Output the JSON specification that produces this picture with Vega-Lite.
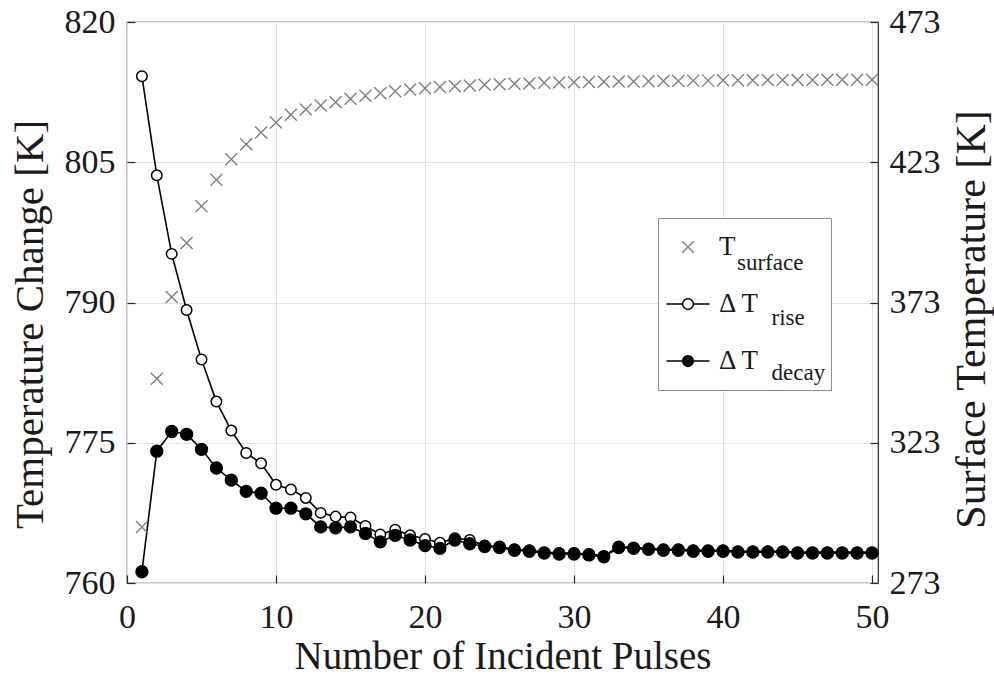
{
  "$schema": "https://vega.github.io/schema/vega-lite/v6.json",
  "width": 751,
  "height": 561,
  "autosize": "none",
  "padding": {"left": 127, "top": 22, "right": 116, "bottom": 93},
  "background": "white",
  "config": {
    "font": "Liberation Serif",
    "view": {"stroke": "#262626", "strokeWidth": 1.2},
    "axis": {
      "labelFont": "Liberation Serif",
      "titleFont": "Liberation Serif",
      "labelColor": "#1a1a1a",
      "titleColor": "#1a1a1a",
      "titleFontWeight": "normal",
      "tickColor": "#262626",
      "tickWidth": 1.2,
      "domain": false,
      "gridColor": "#e2e2e2",
      "gridWidth": 1,
      "labelFontSize": 34,
      "titleFontSize": 41,
      "tickSize": -8,
      "labelFlush": false,
      "labelOverlap": false
    },
    "legend": {"labelFont": "Liberation Serif", "labelColor": "#1a1a1a"}
  },
  "datasets": {
    "readings": [
      {"n": 1, "series": "surface", "value": 293.0},
      {"n": 2, "series": "surface", "value": 345.8},
      {"n": 3, "series": "surface", "value": 375.0},
      {"n": 4, "series": "surface", "value": 394.2},
      {"n": 5, "series": "surface", "value": 407.3},
      {"n": 6, "series": "surface", "value": 416.8},
      {"n": 7, "series": "surface", "value": 424.1},
      {"n": 8, "series": "surface", "value": 429.4},
      {"n": 9, "series": "surface", "value": 433.6},
      {"n": 10, "series": "surface", "value": 437.2},
      {"n": 11, "series": "surface", "value": 439.9},
      {"n": 12, "series": "surface", "value": 441.8},
      {"n": 13, "series": "surface", "value": 443.2},
      {"n": 14, "series": "surface", "value": 444.4},
      {"n": 15, "series": "surface", "value": 445.6},
      {"n": 16, "series": "surface", "value": 446.7},
      {"n": 17, "series": "surface", "value": 447.6},
      {"n": 18, "series": "surface", "value": 448.3},
      {"n": 19, "series": "surface", "value": 448.9},
      {"n": 20, "series": "surface", "value": 449.4},
      {"n": 21, "series": "surface", "value": 449.8},
      {"n": 22, "series": "surface", "value": 450.1},
      {"n": 23, "series": "surface", "value": 450.4},
      {"n": 24, "series": "surface", "value": 450.6},
      {"n": 25, "series": "surface", "value": 450.8},
      {"n": 26, "series": "surface", "value": 451.0},
      {"n": 27, "series": "surface", "value": 451.1},
      {"n": 28, "series": "surface", "value": 451.3},
      {"n": 29, "series": "surface", "value": 451.4},
      {"n": 30, "series": "surface", "value": 451.5},
      {"n": 31, "series": "surface", "value": 451.6},
      {"n": 32, "series": "surface", "value": 451.7},
      {"n": 33, "series": "surface", "value": 451.8},
      {"n": 34, "series": "surface", "value": 451.8},
      {"n": 35, "series": "surface", "value": 451.9},
      {"n": 36, "series": "surface", "value": 452.0},
      {"n": 37, "series": "surface", "value": 452.0},
      {"n": 38, "series": "surface", "value": 452.1},
      {"n": 39, "series": "surface", "value": 452.1},
      {"n": 40, "series": "surface", "value": 452.2},
      {"n": 41, "series": "surface", "value": 452.2},
      {"n": 42, "series": "surface", "value": 452.2},
      {"n": 43, "series": "surface", "value": 452.3},
      {"n": 44, "series": "surface", "value": 452.3},
      {"n": 45, "series": "surface", "value": 452.3},
      {"n": 46, "series": "surface", "value": 452.3},
      {"n": 47, "series": "surface", "value": 452.4},
      {"n": 48, "series": "surface", "value": 452.4},
      {"n": 49, "series": "surface", "value": 452.4},
      {"n": 50, "series": "surface", "value": 452.4},
      {"n": 1, "series": "rise", "value": 814.2},
      {"n": 2, "series": "rise", "value": 803.6},
      {"n": 3, "series": "rise", "value": 795.2},
      {"n": 4, "series": "rise", "value": 789.2},
      {"n": 5, "series": "rise", "value": 783.9},
      {"n": 6, "series": "rise", "value": 779.4},
      {"n": 7, "series": "rise", "value": 776.3},
      {"n": 8, "series": "rise", "value": 773.9},
      {"n": 9, "series": "rise", "value": 772.8},
      {"n": 10, "series": "rise", "value": 770.5},
      {"n": 11, "series": "rise", "value": 770.0},
      {"n": 12, "series": "rise", "value": 769.1},
      {"n": 13, "series": "rise", "value": 767.5},
      {"n": 14, "series": "rise", "value": 767.1},
      {"n": 15, "series": "rise", "value": 767.0},
      {"n": 16, "series": "rise", "value": 766.1},
      {"n": 17, "series": "rise", "value": 765.2},
      {"n": 18, "series": "rise", "value": 765.7},
      {"n": 19, "series": "rise", "value": 765.1},
      {"n": 20, "series": "rise", "value": 764.7},
      {"n": 21, "series": "rise", "value": 764.3},
      {"n": 22, "series": "rise", "value": 764.8},
      {"n": 23, "series": "rise", "value": 764.6},
      {"n": 24, "series": "rise", "value": 764.0},
      {"n": 25, "series": "rise", "value": 763.9},
      {"n": 26, "series": "rise", "value": 763.6},
      {"n": 27, "series": "rise", "value": 763.5},
      {"n": 28, "series": "rise", "value": 763.3},
      {"n": 29, "series": "rise", "value": 763.2},
      {"n": 30, "series": "rise", "value": 763.2},
      {"n": 31, "series": "rise", "value": 763.1},
      {"n": 32, "series": "rise", "value": 762.9},
      {"n": 33, "series": "rise", "value": 763.9},
      {"n": 34, "series": "rise", "value": 763.8},
      {"n": 35, "series": "rise", "value": 763.7},
      {"n": 36, "series": "rise", "value": 763.6},
      {"n": 37, "series": "rise", "value": 763.6},
      {"n": 38, "series": "rise", "value": 763.5},
      {"n": 39, "series": "rise", "value": 763.5},
      {"n": 40, "series": "rise", "value": 763.5},
      {"n": 41, "series": "rise", "value": 763.4},
      {"n": 42, "series": "rise", "value": 763.4},
      {"n": 43, "series": "rise", "value": 763.4},
      {"n": 44, "series": "rise", "value": 763.4},
      {"n": 45, "series": "rise", "value": 763.3},
      {"n": 46, "series": "rise", "value": 763.3},
      {"n": 47, "series": "rise", "value": 763.3},
      {"n": 48, "series": "rise", "value": 763.3},
      {"n": 49, "series": "rise", "value": 763.3},
      {"n": 50, "series": "rise", "value": 763.3},
      {"n": 1, "series": "decay", "value": 761.2},
      {"n": 2, "series": "decay", "value": 774.1},
      {"n": 3, "series": "decay", "value": 776.2},
      {"n": 4, "series": "decay", "value": 775.9},
      {"n": 5, "series": "decay", "value": 774.3},
      {"n": 6, "series": "decay", "value": 772.3},
      {"n": 7, "series": "decay", "value": 771.0},
      {"n": 8, "series": "decay", "value": 769.8},
      {"n": 9, "series": "decay", "value": 769.6},
      {"n": 10, "series": "decay", "value": 768.0},
      {"n": 11, "series": "decay", "value": 768.0},
      {"n": 12, "series": "decay", "value": 767.4},
      {"n": 13, "series": "decay", "value": 766.0},
      {"n": 14, "series": "decay", "value": 765.9},
      {"n": 15, "series": "decay", "value": 766.0},
      {"n": 16, "series": "decay", "value": 765.3},
      {"n": 17, "series": "decay", "value": 764.4},
      {"n": 18, "series": "decay", "value": 765.1},
      {"n": 19, "series": "decay", "value": 764.6},
      {"n": 20, "series": "decay", "value": 764.0},
      {"n": 21, "series": "decay", "value": 763.7},
      {"n": 22, "series": "decay", "value": 764.6},
      {"n": 23, "series": "decay", "value": 764.2},
      {"n": 24, "series": "decay", "value": 763.9},
      {"n": 25, "series": "decay", "value": 763.8},
      {"n": 26, "series": "decay", "value": 763.5},
      {"n": 27, "series": "decay", "value": 763.4},
      {"n": 28, "series": "decay", "value": 763.2},
      {"n": 29, "series": "decay", "value": 763.1},
      {"n": 30, "series": "decay", "value": 763.1},
      {"n": 31, "series": "decay", "value": 763.0},
      {"n": 32, "series": "decay", "value": 762.8},
      {"n": 33, "series": "decay", "value": 763.8},
      {"n": 34, "series": "decay", "value": 763.7},
      {"n": 35, "series": "decay", "value": 763.6},
      {"n": 36, "series": "decay", "value": 763.5},
      {"n": 37, "series": "decay", "value": 763.5},
      {"n": 38, "series": "decay", "value": 763.4},
      {"n": 39, "series": "decay", "value": 763.4},
      {"n": 40, "series": "decay", "value": 763.4},
      {"n": 41, "series": "decay", "value": 763.3},
      {"n": 42, "series": "decay", "value": 763.3},
      {"n": 43, "series": "decay", "value": 763.3},
      {"n": 44, "series": "decay", "value": 763.3},
      {"n": 45, "series": "decay", "value": 763.2},
      {"n": 46, "series": "decay", "value": 763.2},
      {"n": 47, "series": "decay", "value": 763.2},
      {"n": 48, "series": "decay", "value": 763.2},
      {"n": 49, "series": "decay", "value": 763.2},
      {"n": 50, "series": "decay", "value": 763.2}
    ]
  },
  "data": {"name": "readings"},
  "layer": [
    {
      "transform": [{"filter": "datum.series !== 'surface'"}],
      "encoding": {
        "x": {
          "field": "n",
          "type": "quantitative",
          "scale": {"domain": [0, 50.4], "nice": false},
          "axis": {
            "values": [0, 10, 20, 30, 40, 50],
            "title": "Number of Incident Pulses",
            "grid": true,
            "labelPadding": 25,
            "titleFontSize": 39,
            "titleY": 85,
            "titleBaseline": "alphabetic"
          }
        },
        "y": {
          "field": "value",
          "type": "quantitative",
          "scale": {"domain": [760, 820], "nice": false, "zero": false},
          "axis": {
            "values": [760, 775, 790, 805, 820],
            "title": "Temperature Change [K]",
            "grid": true,
            "labelPadding": 20,
            "titleAngle": 270,
            "titleX": -85,
            "titleY": 302,
            "titleBaseline": "alphabetic"
          }
        }
      },
      "layer": [
        {
          "mark": {"type": "line", "color": "black", "strokeWidth": 1.6},
          "encoding": {"detail": {"field": "series"}}
        },
        {
          "transform": [{"filter": "datum.series === 'rise'"}],
          "mark": {"type": "point", "shape": "circle", "size": 110, "strokeWidth": 1.5, "opacity": 1},
          "encoding": {
            "fill": {
              "field": "series", "type": "nominal",
              "scale": {"domain": ["surface", "rise", "decay"], "range": ["#7f7f7f", "white", "black"]},
              "legend": {
                "title": null, "orient": "none", "legendX": 531, "legendY": 196, "padding": 7.5,
                "fillColor": "white", "strokeColor": "#8c8c8c", "symbolSize": 1849, "symbolStrokeWidth": 1.5,
                "symbolOpacity": 1, "clipHeight": 43, "labelFontSize": 27, "labelOffset": 8.5, "rowPadding": 14, "zindex": 1,
                "labelExpr": "datum.value === 'surface' ? 'T' : '\u0394 T\u2003\u2003\u2004\u200b'"
              }
            },
            "stroke": {"field": "series", "type": "nominal", "scale": {"domain": ["surface", "rise", "decay"], "range": ["#7f7f7f", "black", "black"]}},
            "opacity": {
              "field": "series", "type": "ordinal", "sort": ["surface", "rise", "decay"],
              "scale": {"range": [1, 1]},
              "legend": {
                "title": null, "orient": "none", "legendX": 560, "legendY": 219.5, "padding": 0,
                "symbolSize": 0, "clipHeight": 43, "labelFontSize": 23,
                "labelOffset": 27, "rowPadding": 12, "zindex": 2,
                "labelExpr": "datum.value === 'surface' ? 'surface' : datum.value === 'rise' ? '\u200b\u2003\u2002rise' : '\u200b\u2003\u2002decay'"
              }
            }
          }
        },
        {
          "transform": [{"filter": "datum.series === 'decay'"}],
          "mark": {"type": "point", "shape": "circle", "size": 140, "strokeWidth": 1.5, "opacity": 1},
          "encoding": {
            "fill": {
              "field": "series", "type": "nominal",
              "scale": {"domain": ["surface", "rise", "decay"], "range": ["#7f7f7f", "white", "black"]},
              "legend": {
                "title": null, "orient": "none", "legendX": 531, "legendY": 196, "padding": 7.5,
                "fillColor": "white", "strokeColor": "#8c8c8c", "symbolSize": 1849, "symbolStrokeWidth": 1.5,
                "symbolOpacity": 1, "clipHeight": 43, "labelFontSize": 27, "labelOffset": 8.5, "rowPadding": 14, "zindex": 1,
                "labelExpr": "datum.value === 'surface' ? 'T' : '\u0394 T\u2003\u2003\u2004\u200b'"
              }
            },
            "stroke": {"field": "series", "type": "nominal", "scale": {"domain": ["surface", "rise", "decay"], "range": ["#7f7f7f", "black", "black"]}},
            "opacity": {
              "field": "series", "type": "ordinal", "sort": ["surface", "rise", "decay"],
              "scale": {"range": [1, 1]},
              "legend": {
                "title": null, "orient": "none", "legendX": 560, "legendY": 219.5, "padding": 0,
                "symbolSize": 0, "clipHeight": 43, "labelFontSize": 23,
                "labelOffset": 27, "rowPadding": 12, "zindex": 2,
                "labelExpr": "datum.value === 'surface' ? 'surface' : datum.value === 'rise' ? '\u200b\u2003\u2002rise' : '\u200b\u2003\u2002decay'"
              }
            }
          }
        }
      ]
    },
    {
      "transform": [{"filter": "datum.series === 'surface'"}],
      "mark": {"type": "point", "size": 1975, "strokeWidth": 1.4, "opacity": 1},
      "encoding": {
        "x": {"field": "n", "type": "quantitative", "scale": {"domain": [0, 50.4], "nice": false}},
        "y": {
          "field": "value",
          "type": "quantitative",
          "scale": {"domain": [273, 473], "nice": false, "zero": false},
          "axis": {
            "orient": "right",
            "values": [273, 323, 373, 423, 473],
            "title": "Surface Temperature [K]",
            "titleFontSize": 42,
            "grid": false,
            "labelPadding": 19,
            "titleAngle": 270,
            "titleX": 106,
            "titleY": 297,
            "titleBaseline": "alphabetic"
          }
        },
        "shape": {
          "field": "series", "type": "nominal",
          "scale": {
            "domain": ["surface", "rise", "decay"],
            "range": [
              "M-0.27,-0.27L0.27,0.27M-0.27,0.27L0.27,-0.27",
              "M-1,0H-0.25M0.25,0H1M-0.25,0A0.25,0.25 0 1,0 0.25,0A0.25,0.25 0 1,0 -0.25,0",
              "M-1,0H-0.25M0.25,0H1M-0.25,0A0.25,0.25 0 1,0 0.25,0A0.25,0.25 0 1,0 -0.25,0"
            ]
          },
          "legend": {
            "title": null, "orient": "none", "legendX": 531, "legendY": 196, "padding": 7.5,
            "fillColor": "white", "strokeColor": "#8c8c8c", "symbolSize": 1849, "symbolStrokeWidth": 1.5,
            "symbolOpacity": 1, "clipHeight": 43, "labelFontSize": 27, "labelOffset": 8.5, "rowPadding": 14, "zindex": 1,
            "labelExpr": "datum.value === 'surface' ? 'T' : '\u0394 T\u2003\u2003\u2004\u200b'"
          }
        },
        "fill": {
          "field": "series", "type": "nominal",
          "scale": {"domain": ["surface", "rise", "decay"], "range": ["#7f7f7f", "white", "black"]},
          "legend": {
            "title": null, "orient": "none", "legendX": 531, "legendY": 196, "padding": 7.5,
            "fillColor": "white", "strokeColor": "#8c8c8c", "symbolSize": 1849, "symbolStrokeWidth": 1.5,
            "symbolOpacity": 1, "clipHeight": 43, "labelFontSize": 27, "labelOffset": 8.5, "rowPadding": 14, "zindex": 1,
            "labelExpr": "datum.value === 'surface' ? 'T' : '\u0394 T\u2003\u2003\u2004\u200b'"
          }
        },
        "stroke": {"field": "series", "type": "nominal", "scale": {"domain": ["surface", "rise", "decay"], "range": ["#7f7f7f", "black", "black"]}},
        "opacity": {
          "field": "series", "type": "ordinal", "sort": ["surface", "rise", "decay"],
          "scale": {"range": [1, 1]},
          "legend": {
            "title": null, "orient": "none", "legendX": 560, "legendY": 219.5, "padding": 0,
            "symbolSize": 0, "clipHeight": 43, "labelFontSize": 23,
            "labelOffset": 27, "rowPadding": 12, "zindex": 2,
            "labelExpr": "datum.value === 'surface' ? 'surface' : datum.value === 'rise' ? '\u200b\u2003\u2002rise' : '\u200b\u2003\u2002decay'"
          }
        }
      }
    }
  ],
  "resolve": {"scale": {"y": "independent"}}
}
